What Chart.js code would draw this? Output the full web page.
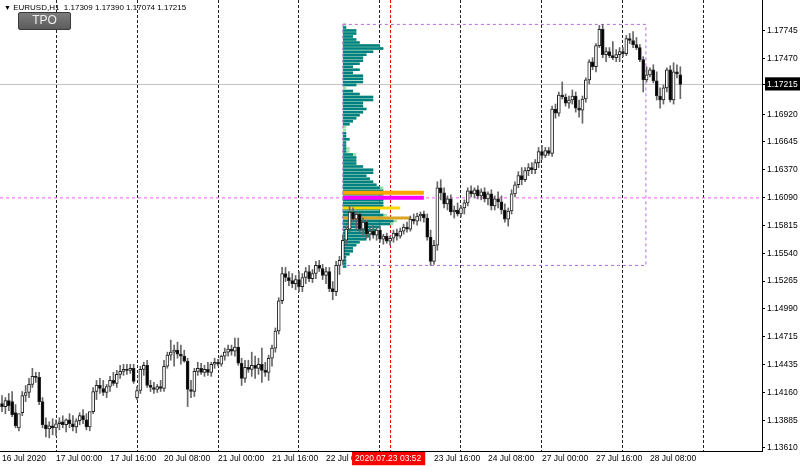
<!DOCTYPE html>
<html>
<head>
<meta charset="utf-8">
<script src="https://cdn.jsdelivr.net/npm/chart.js@4.4.1/dist/chart.umd.min.js"></script>
<style>
    body { margin: 0; background: #fff; }
    #wrap { position: relative; width: 800px; height: 467px; }
    #title { position: absolute; left: 4px; top: 3px; font: 8px "Liberation Sans", sans-serif; color: #000; white-space: pre; }
    #title .arr { font-size: 7px; }
    #tpo { position: absolute; left: 18px; top: 12px; width: 51px; height: 16px; line-height: 16px;
        background: linear-gradient(#7c7c7c, #5c5c5c); border: 1px solid #3a3a3a; border-radius: 2px;
        color: #eee; font: 12px "Liberation Sans", sans-serif; text-align: center; }
</style>
</head>
<body>
<div id="wrap">
    <canvas id="chart" width="800" height="467"></canvas>
    <div id="title"><span class="arr">&#9660;</span> EURUSD,H1  1.17309 1.17390 1.17074 1.17215</div>
    <div id="tpo">TPO</div>
</div>
<script>
// EURUSD H1, 16 Jul 08:00 .. 28 Jul 17:00, one entry per bar
var opens = [
    1.1405, 1.1402, 1.1408, 1.1407, 1.1396, 1.1381, 1.1396, 1.1413, 1.1416, 1.1424,
    1.1432, 1.1431, 1.1407, 1.1384, 1.1380, 1.1383, 1.1381, 1.1385, 1.1387, 1.1384,
    1.1389, 1.1385, 1.1382, 1.1388, 1.1393, 1.1389, 1.1382, 1.1397, 1.1417, 1.1423,
    1.1420, 1.1416, 1.1422, 1.1428, 1.1425, 1.1434, 1.1437, 1.1439, 1.1438, 1.1440,
    1.1411, 1.1418, 1.1439, 1.1443, 1.1423, 1.1421, 1.1419, 1.1422, 1.1420, 1.1442,
    1.1453, 1.1456, 1.1458, 1.1454, 1.1452, 1.1447, 1.1419, 1.1417, 1.1437, 1.1440,
    1.1436, 1.1439, 1.1436, 1.1444, 1.1446, 1.1444, 1.1452, 1.1456, 1.1459, 1.1457,
    1.1461, 1.1445, 1.1430, 1.1441, 1.1439, 1.1443, 1.1440, 1.1444, 1.1438, 1.1436,
    1.1450, 1.1460, 1.1477, 1.1507, 1.1534, 1.1530, 1.1527, 1.1524, 1.1528, 1.1521,
    1.1530, 1.1536, 1.1529, 1.1534, 1.1542, 1.1539, 1.1532, 1.1536, 1.1519, 1.1516,
    1.1542, 1.1547, 1.1567, 1.1578, 1.1595, 1.1588, 1.1593, 1.1578, 1.1585, 1.1573,
    1.1576, 1.1572, 1.1577, 1.1568, 1.1571, 1.1566, 1.1569, 1.1574, 1.1571, 1.1576,
    1.1580, 1.1578, 1.1588, 1.1586, 1.1591, 1.1593, 1.1589, 1.1570, 1.1546, 1.1562,
    1.1619, 1.1614, 1.1603, 1.1608, 1.1595, 1.1597, 1.1593, 1.1599, 1.1604, 1.1616,
    1.1613, 1.1617, 1.1611, 1.1615, 1.1608, 1.1613, 1.1601, 1.1608, 1.1605, 1.1597,
    1.1588, 1.1596, 1.1613, 1.1622, 1.1631, 1.1627, 1.1636, 1.1639, 1.1637, 1.1644,
    1.1655, 1.1651, 1.1656, 1.1653, 1.1697, 1.1693, 1.1711, 1.1709, 1.1703, 1.1706,
    1.1710, 1.1698, 1.1696, 1.1707, 1.1726, 1.1744, 1.1739, 1.1760, 1.1776, 1.1751,
    1.1754, 1.1750, 1.1748, 1.1751, 1.1754, 1.1752, 1.1767, 1.1765, 1.1761, 1.1758,
    1.1746, 1.1726, 1.1731, 1.1736, 1.1725, 1.1710, 1.1706, 1.1718, 1.1736, 1.1706,
    1.1734, 1.17309
];
var highs = [
    1.1413, 1.1411, 1.1415, 1.1417, 1.1404, 1.1391, 1.1417, 1.1423, 1.1430, 1.1440,
    1.1436, 1.1436, 1.1411, 1.1391, 1.1387, 1.1390, 1.1389, 1.1391, 1.1393, 1.1390,
    1.1395, 1.1393, 1.1390, 1.1396, 1.1399, 1.1395, 1.1389, 1.1421, 1.1428, 1.1430,
    1.1428, 1.1424, 1.1432, 1.1436, 1.1438, 1.1443, 1.1444, 1.1444, 1.1444, 1.1444,
    1.1422, 1.1442, 1.1446, 1.1448, 1.1428, 1.1426, 1.1424, 1.1428, 1.1448, 1.1456,
    1.1468, 1.1463, 1.1466, 1.1463, 1.1458, 1.1450, 1.1428, 1.1440, 1.1446, 1.1445,
    1.1443, 1.1446, 1.1446, 1.1450, 1.1449, 1.1453, 1.1460, 1.1463, 1.1463, 1.1470,
    1.1470, 1.1450, 1.1448, 1.1448, 1.1456, 1.1452, 1.1450, 1.1460, 1.1446, 1.1453,
    1.1463, 1.1480, 1.1510, 1.1540, 1.1540, 1.1536, 1.1534, 1.1532, 1.1536, 1.1534,
    1.1540, 1.1542, 1.1538, 1.1546, 1.1547, 1.1543, 1.1540, 1.1540, 1.1526, 1.1546,
    1.1551, 1.1572, 1.1581, 1.1601, 1.1599, 1.1595, 1.1595, 1.1589, 1.1587, 1.1579,
    1.1582, 1.1579, 1.1581, 1.1573, 1.1574, 1.1571, 1.1577, 1.1578, 1.1579, 1.1583,
    1.1585, 1.1591, 1.1593, 1.1594, 1.1595, 1.1596, 1.1593, 1.1577, 1.1567, 1.1625,
    1.1627, 1.1619, 1.1611, 1.1612, 1.1601, 1.1604, 1.1601, 1.1607, 1.1619, 1.1621,
    1.1619, 1.1621, 1.1618, 1.1619, 1.1615, 1.1617, 1.1611, 1.1615, 1.1611, 1.1603,
    1.1599, 1.1617, 1.1625, 1.1635, 1.1639, 1.1639, 1.1643, 1.1644, 1.1647, 1.1659,
    1.1661, 1.1659, 1.1659, 1.1700, 1.1702, 1.1714, 1.1724, 1.1712, 1.1710, 1.1716,
    1.1714, 1.1706, 1.1710, 1.1728, 1.1746, 1.1748, 1.1762, 1.1780, 1.1781, 1.1758,
    1.1758, 1.1764, 1.1756, 1.1758, 1.1758, 1.1770, 1.1772, 1.1774, 1.1768, 1.1761,
    1.1749, 1.1739, 1.1738, 1.1741, 1.1734, 1.1718, 1.1721, 1.1738, 1.1740, 1.1743,
    1.1741, 1.17390
];
var lows = [
    1.1397, 1.1395, 1.1398, 1.1392, 1.1381, 1.1378, 1.1393, 1.1407, 1.1411, 1.1421,
    1.1426, 1.1404, 1.1381, 1.1372, 1.1371, 1.1374, 1.1373, 1.1379, 1.1381, 1.1377,
    1.1381, 1.1378, 1.1376, 1.1384, 1.1385, 1.1379, 1.1378, 1.1395, 1.1409, 1.1415,
    1.1413, 1.1411, 1.1417, 1.1423, 1.1421, 1.1430, 1.1433, 1.1434, 1.1435, 1.1425,
    1.1409, 1.1415, 1.1433, 1.1421, 1.1417, 1.1415, 1.1416, 1.1417, 1.1417, 1.1440,
    1.1448, 1.1442, 1.1450, 1.1444, 1.1446, 1.1402, 1.1411, 1.1412, 1.1433, 1.1434,
    1.1432, 1.1433, 1.1432, 1.1440, 1.1442, 1.1442, 1.1448, 1.1452, 1.1453, 1.1452,
    1.1443, 1.1423, 1.1426, 1.1436, 1.1432, 1.1430, 1.1434, 1.1426, 1.1432, 1.1428,
    1.1442, 1.1456, 1.1474, 1.1504, 1.1526, 1.1522, 1.1520, 1.1518, 1.1516, 1.1516,
    1.1524, 1.1526, 1.1525, 1.1529, 1.1536, 1.1528, 1.1524, 1.1516, 1.1508, 1.1512,
    1.1533, 1.1543, 1.1563, 1.1575, 1.1585, 1.1577, 1.1575, 1.1571, 1.1569, 1.1567,
    1.1569, 1.1567, 1.1565, 1.1563, 1.1564, 1.1562, 1.1565, 1.1567, 1.1569, 1.1573,
    1.1575, 1.1576, 1.1583, 1.1582, 1.1586, 1.1585, 1.1567, 1.1542, 1.1543, 1.1557,
    1.1607, 1.1599, 1.1597, 1.1592, 1.1589, 1.1591, 1.1590, 1.1593, 1.1601, 1.1610,
    1.1609, 1.1608, 1.1607, 1.1605, 1.1602, 1.1597, 1.1597, 1.1599, 1.1593, 1.1585,
    1.1581, 1.1593, 1.1610, 1.1619, 1.1622, 1.1625, 1.1631, 1.1633, 1.1633, 1.1639,
    1.1647, 1.1649, 1.1651, 1.1650, 1.1688, 1.1690, 1.1707, 1.1700, 1.1698, 1.1702,
    1.1694, 1.1689, 1.1683, 1.1704, 1.1722, 1.1736, 1.1734, 1.1758, 1.1748, 1.1744,
    1.1748, 1.1746, 1.1744, 1.1744, 1.1749, 1.1750, 1.1762, 1.1758, 1.1756, 1.1744,
    1.1714, 1.1724, 1.1729, 1.1723, 1.1706, 1.1698, 1.1702, 1.1714, 1.1704, 1.1702,
    1.1728, 1.17074
];
var closes = [
    1.1402, 1.1408, 1.1403, 1.1394, 1.1383, 1.1395, 1.1413, 1.1416, 1.1424, 1.1432,
    1.1431, 1.1407, 1.1384, 1.1380, 1.1383, 1.1381, 1.1385, 1.1387, 1.1384, 1.1389,
    1.1385, 1.1382, 1.1388, 1.1393, 1.1389, 1.1382, 1.1397, 1.1417, 1.1423, 1.1420,
    1.1416, 1.1422, 1.1428, 1.1425, 1.1434, 1.1437, 1.1439, 1.1438, 1.1440, 1.1427,
    1.1418, 1.1439, 1.1443, 1.1423, 1.1421, 1.1419, 1.1422, 1.1420, 1.1442, 1.1453,
    1.1456, 1.1458, 1.1454, 1.1452, 1.1447, 1.1419, 1.1417, 1.1437, 1.1440, 1.1436,
    1.1439, 1.1436, 1.1444, 1.1446, 1.1444, 1.1452, 1.1456, 1.1459, 1.1457, 1.1461,
    1.1445, 1.1430, 1.1441, 1.1439, 1.1443, 1.1440, 1.1444, 1.1438, 1.1436, 1.1450,
    1.1460, 1.1477, 1.1507, 1.1534, 1.1530, 1.1527, 1.1524, 1.1528, 1.1521, 1.1530,
    1.1536, 1.1529, 1.1534, 1.1542, 1.1539, 1.1532, 1.1536, 1.1519, 1.1516, 1.1542,
    1.1547, 1.1567, 1.1578, 1.1595, 1.1588, 1.1593, 1.1578, 1.1585, 1.1573, 1.1576,
    1.1572, 1.1577, 1.1568, 1.1571, 1.1566, 1.1569, 1.1574, 1.1571, 1.1576, 1.1580,
    1.1578, 1.1588, 1.1586, 1.1591, 1.1593, 1.1589, 1.1570, 1.1546, 1.1562, 1.1619,
    1.1614, 1.1603, 1.1608, 1.1595, 1.1597, 1.1593, 1.1599, 1.1604, 1.1616, 1.1613,
    1.1617, 1.1611, 1.1615, 1.1608, 1.1613, 1.1601, 1.1608, 1.1605, 1.1597, 1.1588,
    1.1596, 1.1613, 1.1622, 1.1631, 1.1627, 1.1636, 1.1639, 1.1637, 1.1644, 1.1655,
    1.1651, 1.1656, 1.1653, 1.1697, 1.1693, 1.1711, 1.1709, 1.1703, 1.1706, 1.1710,
    1.1698, 1.1696, 1.1707, 1.1726, 1.1744, 1.1739, 1.1760, 1.1776, 1.1751, 1.1754,
    1.1750, 1.1748, 1.1751, 1.1754, 1.1752, 1.1767, 1.1765, 1.1761, 1.1758, 1.1746,
    1.1726, 1.1731, 1.1736, 1.1725, 1.1710, 1.1706, 1.1718, 1.1736, 1.1706, 1.1734,
    1.1732, 1.17215
];

// TPO profile of the session starting at bar 101 (price level -> letters)
var profileStart = 101;
var profilePrices = [
    1.1781, 1.1778, 1.1775, 1.1772, 1.1769, 1.1766, 1.1763, 1.1760, 1.1757, 1.1754,
    1.1751, 1.1748, 1.1745, 1.1742, 1.1739, 1.1736, 1.1733, 1.1730, 1.1727, 1.1724,
    1.1721, 1.1718, 1.1715, 1.1712, 1.1709, 1.1706, 1.1703, 1.1700, 1.1697, 1.1694,
    1.1691, 1.1688, 1.1685, 1.1682, 1.1679, 1.1676, 1.1673, 1.1670, 1.1667, 1.1664,
    1.1661, 1.1658, 1.1655, 1.1652, 1.1649, 1.1646, 1.1643, 1.1640, 1.1637, 1.1634,
    1.1631, 1.1628, 1.1625, 1.1622, 1.1619, 1.1616, 1.1613, 1.1610, 1.1607, 1.1604,
    1.1601, 1.1598, 1.1595, 1.1592, 1.1589, 1.1586, 1.1583, 1.1580, 1.1577, 1.1574,
    1.1571, 1.1568, 1.1565, 1.1562, 1.1559, 1.1556, 1.1553, 1.1550, 1.1547, 1.1544,
    1.1541
];
var tpoValueArea = [
    0, 1, 4, 4, 3, 4, 5, 11, 12, 9,
    7, 6, 6, 5, 3, 5, 3, 6, 6, 6,
    4, 0, 3, 5, 9, 9, 6, 6, 7, 6,
    5, 4, 3, 2, 0, 0, 1, 1, 2, 1,
    1, 1, 1, 3, 4, 4, 4, 6, 9, 9,
    7, 8, 9, 10, 11, 12, 12, 12, 12, 12,
    12, 11, 11, 12, 12, 15, 14, 11, 10, 9,
    8, 7, 5, 4, 3, 3, 2, 1, 1, 1,
    1
];
var tpoTotal = [
    1, 1, 4, 4, 3, 4, 5, 11, 12, 9,
    7, 6, 6, 5, 3, 5, 3, 6, 6, 6,
    4, 1, 3, 5, 9, 9, 6, 6, 7, 6,
    5, 4, 3, 2, 1, 1, 1, 1, 2, 1,
    1, 2, 2, 4, 4, 4, 4, 6, 9, 9,
    7, 8, 9, 10, 12, 12, 12, 12, 12, 12,
    12, 11, 11, 13, 14, 16, 15, 11, 10, 9,
    8, 7, 5, 4, 3, 3, 2, 1, 1, 1,
    1
];

// key levels of the profile
var levelNames = ["poc", "mid", "vah", "val"];
var levelPrices = [1.1614, 1.1609, 1.1599, 1.1589];
var levelLens = [24, 24, 17, 20];
var levelColors = ["#ffa500", "#ff00ff", "#ffd700", "#d9a520"];
var levelWidths = [4, 4, 3, 3];

var rangeHigh = 1.1781, rangeLow = 1.1542, rangeEnd = 190.8;
var midLine = 1.16090;
var lastPrice = 1.17215;

// axis
var xMin = -0.6, xMax = 225.2;
var yMin = 1.13580, yMax = 1.18052;
var yTicks = [1.17745, 1.17470, 1.17215, 1.16920, 1.16645, 1.16370, 1.16090, 1.15815,
    1.15540, 1.15265, 1.14990, 1.14715, 1.14435, 1.14160, 1.13885, 1.13610];
var xLabelPos = [0, 16, 32, 48, 64, 80, 96, 128, 144, 160, 176, 192];
var xLabels = ["16 Jul 2020", "17 Jul 00:00", "17 Jul 16:00", "20 Jul 08:00", "21 Jul 00:00", "21 Jul 16:00",
    "22 Jul 08:00", "23 Jul 16:00", "24 Jul 08:00", "27 Jul 00:00", "27 Jul 16:00", "28 Jul 08:00"];
var daySeparators = [16, 40, 64, 88, 112, 136, 160, 184, 208];
var cursorBar = 115;
var cursorLabelPos = 104.6;
var cursorLabel = "2020.07.23 03:52";

var axisFont = { family: "'Liberation Sans', sans-serif", size: 8.5 };

function bodyData() {
    var d = [];
    for (var i = 0; i < opens.length; i++) d.push({ x: i, y: [opens[i], closes[i]] });
    return d;
}
function wickData() {
    var d = [];
    for (var i = 0; i < opens.length; i++) d.push({ x: i, y: [lows[i], highs[i]] });
    return d;
}
function bodyColors() {
    var c = [];
    for (var i = 0; i < opens.length; i++) c.push(closes[i] >= opens[i] ? "#ffffff" : "#000000");
    return c;
}
function rows(prices, lens, start) {
    var pts = [];
    for (var i = 0; i < prices.length; i++) {
        if (!lens[i]) continue;
        pts.push({ x: start, y: prices[i] }, { x: start + lens[i], y: prices[i] }, { x: start + lens[i], y: null });
    }
    return pts;
}
function hline(y) {
    return [{ x: xMin, y: y }, { x: xMax, y: y }];
}
function lineSet(data, color, width, dash, order) {
    return {
        type: "line", data: data, borderColor: color, borderWidth: width, borderDash: dash || [],
        pointRadius: 0, spanGaps: false, fill: false, tension: 0, order: order
    };
}

var xTickVals = [];
xLabelPos.concat(daySeparators, [cursorBar, cursorLabelPos]).forEach(function (v) {
    if (xTickVals.indexOf(v) < 0) xTickVals.push(v);
});
xTickVals.sort(function (a, b) { return a - b; });

var datasets = [
    {
        type: "bar", data: bodyData(), backgroundColor: bodyColors(), borderColor: "#222",
        borderWidth: 1, borderSkipped: false, barThickness: 3, minBarLength: 1, grouped: false, order: 0
    },
    {
        type: "bar", data: wickData(), backgroundColor: "#666", borderWidth: 0,
        barThickness: 1, grouped: false, order: 1
    },
    lineSet(rows(profilePrices, tpoValueArea, profileStart), "#008080", 2.5, null, 3),
    lineSet(rows(profilePrices, tpoTotal, profileStart), "#9ddfa8", 2.5, null, 4),
    lineSet(hline(lastPrice), "#c0c0c0", 1, null, 6),
    lineSet(hline(midLine), "#ff55ff", 1, [3, 3], 5),
    lineSet([{ x: profileStart, y: rangeHigh }, { x: rangeEnd, y: rangeHigh }, { x: rangeEnd, y: rangeLow },
        { x: profileStart, y: rangeLow }, { x: profileStart, y: rangeHigh }], "#b86ae0", 1, [3, 3], 2)
];
for (var k = 0; k < levelNames.length; k++) {
    datasets.push(lineSet([{ x: profileStart, y: levelPrices[k] }, { x: profileStart + levelLens[k], y: levelPrices[k] }],
        levelColors[k], levelWidths[k], null, 2));
}

new Chart(document.getElementById("chart"), {
    type: "bar",
    data: { datasets: datasets },
    options: {
        responsive: false,
        animation: false,
        devicePixelRatio: 1,
        layout: { padding: 0 },
        plugins: { legend: { display: false }, tooltip: { enabled: false } },
        scales: {
            x: {
                type: "linear", min: xMin, max: xMax, offset: false,
                afterBuildTicks: function (scale) {
                    scale.ticks = xTickVals.map(function (v) { return { value: v }; });
                },
                afterFit: function (scale) {
                    scale.height = 16; scale.paddingLeft = 0; scale.paddingRight = 0;
                },
                grid: {
                    offset: false, drawTicks: false, lineWidth: 1,
                    color: function (ctx) {
                        var v = ctx.tick ? ctx.tick.value : null;
                        if (v === cursorBar) return "#ff0000";
                        if (daySeparators.indexOf(v) >= 0) return "#222";
                        return "rgba(0,0,0,0)";
                    }
                },
                border: { color: "#000", width: 1, dash: [3, 2] },
                ticks: {
                    autoSkip: false, maxRotation: 0, minRotation: 0, align: "start", padding: 3,
                    font: axisFont,
                    color: function (ctx) { return ctx.tick && ctx.tick.value === cursorLabelPos ? "#fff" : "#000"; },
                    showLabelBackdrop: function (ctx) { return !!ctx.tick && ctx.tick.value === cursorLabelPos; },
                    backdropColor: "#ff0000",
                    backdropPadding: { left: 3, right: 4, top: 2, bottom: 1 },
                    callback: function (value) {
                        if (value === cursorLabelPos) return cursorLabel;
                        var i = xLabelPos.indexOf(value);
                        return i >= 0 ? xLabels[i] : "";
                    }
                }
            },
            y: {
                type: "linear", position: "right", min: yMin, max: yMax,
                afterBuildTicks: function (scale) {
                    scale.ticks = yTicks.map(function (v) { return { value: v }; });
                },
                afterFit: function (scale) {
                    scale.width = 38; scale.paddingTop = 0; scale.paddingBottom = 0;
                },
                grid: { drawOnChartArea: false, drawTicks: true, tickLength: 3, tickColor: "#000" },
                border: { color: "#000", width: 1 },
                ticks: {
                    autoSkip: false, padding: 2, font: axisFont,
                    color: function (ctx) { return ctx.tick && ctx.tick.value === lastPrice ? "#fff" : "#000"; },
                    showLabelBackdrop: function (ctx) { return !!ctx.tick && ctx.tick.value === lastPrice; },
                    backdropColor: "#000",
                    backdropPadding: { left: 2, right: 6, top: 2, bottom: 1 },
                    callback: function (value) { return value.toFixed(5); }
                }
            }
        }
    }
});
</script>
</body>
</html>
